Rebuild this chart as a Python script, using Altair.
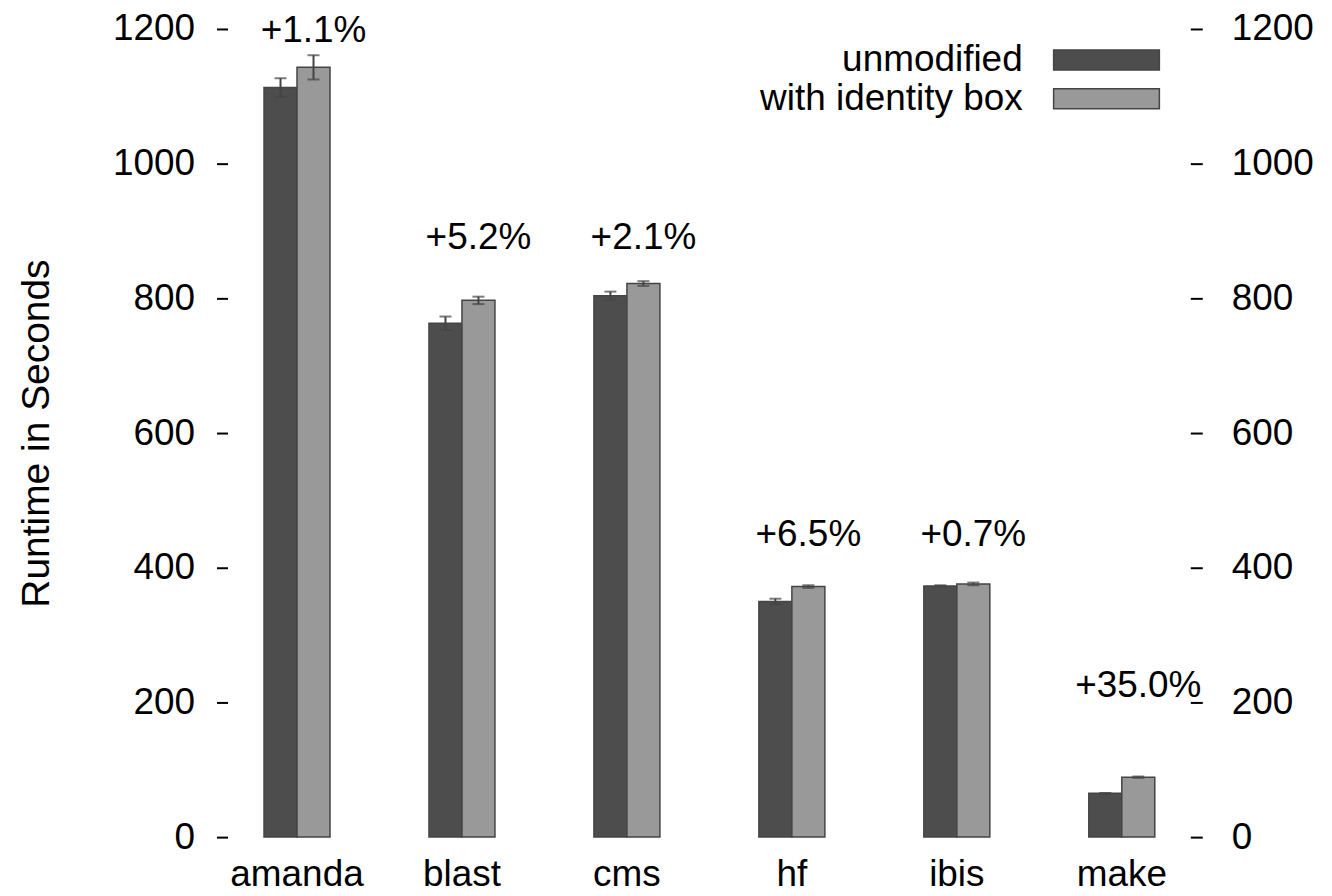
import altair as alt
import pandas as pd

categories = ["amanda", "blast", "cms", "hf", "ibis", "make"]
series = ["unmodified", "with identity box"]
unmodified = [1113, 763, 804, 350, 373, 65]
unmodified_err = [14, 10, 6, 4, 1, 0.5]
identity = [1143, 797, 822, 372, 376, 89]
identity_err = [18, 5.5, 3.5, 2, 2, 1]
pct_labels = ["+1.1%", "+5.2%", "+2.1%", "+6.5%", "+0.7%", "+35.0%"]
label_y = [1197, 890, 890, 449, 449, 225]
colors = ["#4d4d4d", "#999999"]

rows = []
for i, c in enumerate(categories):
    rows.append({"bench": c, "series": series[0], "value": unmodified[i],
                 "lo": unmodified[i] - unmodified_err[i], "hi": unmodified[i] + unmodified_err[i]})
    rows.append({"bench": c, "series": series[1], "value": identity[i],
                 "lo": identity[i] - identity_err[i], "hi": identity[i] + identity_err[i]})
df = pd.DataFrame(rows)
lab = pd.DataFrame({"bench": categories, "series": series[1], "label": pct_labels, "ly": label_y})

FONT = "Liberation Sans"
ysc = alt.Scale(domain=[0, 1200], nice=False, zero=True)
xsc = alt.Scale(paddingInner=0.6, paddingOuter=0.3)
xosc = alt.Scale(domain=series, paddingInner=0, paddingOuter=0)

X = alt.X("bench:N", sort=categories, scale=xsc,
          axis=alt.Axis(title=None, labelAngle=0, ticks=False, domain=False, grid=False,
                        labelFontSize=37, labelPadding=19, labelColor="black", labelFont=FONT))
XO = alt.XOffset("series:N", sort=series, scale=xosc)

left_axis = alt.Axis(title="Runtime in Seconds", orient="left", values=[0, 200, 400, 600, 800, 1000, 1200],
                     format="d", domain=False, grid=False, tickSize=11, tickWidth=2, tickColor="black",
                     offset=-13, labelFontSize=37, labelPadding=22, labelColor="black", labelFont=FONT,
                     titleFontSize=39, titleFontWeight="normal", titleColor="black", titleFont=FONT,
                     titlePadding=56)
right_axis = alt.Axis(title=None, orient="right", values=[0, 200, 400, 600, 800, 1000, 1200],
                      format="d", domain=False, grid=False, tickSize=12, tickWidth=2, tickColor="black",
                      offset=-14, labelFontSize=37, labelPadding=29, labelColor="black", labelFont=FONT)

bars = alt.Chart(df).mark_bar(stroke="#444444", strokeWidth=1.5).encode(
    x=X, xOffset=XO,
    y=alt.Y("value:Q", scale=ysc, axis=left_axis),
    color=alt.Color("series:N", sort=series, scale=alt.Scale(domain=series, range=colors),
                    legend=alt.Legend(title=None, orient="none", legendX=875, legendY=12,
                                      padding=0,
                                      symbolType="M-2.944,-0.556L2.944,-0.556L2.944,0.556L-2.944,0.556Z",
                                      symbolSize=1296,
                                      symbolStrokeColor="#444444", symbolStrokeWidth=1.5, symbolOpacity=1,
                                      labelAlign="right", labelOffset={"expr": "-103"}, labelFontSize=37,
                                      labelLimit=600, labelColor="black", labelFont=FONT,
                                      rowPadding=2)),
)

rules = alt.Chart(df).mark_rule(color="#444444", strokeWidth=2).encode(
    x=X, xOffset=XO, y=alt.Y("lo:Q", scale=ysc, axis=None), y2="hi:Q")
cap_hi = alt.Chart(df).mark_tick(color="#444444", size=12, thickness=2).encode(
    x=X, xOffset=XO, y=alt.Y("hi:Q", scale=ysc, axis=None))
cap_lo = alt.Chart(df).mark_tick(color="#444444", size=12, thickness=2).encode(
    x=X, xOffset=XO, y=alt.Y("lo:Q", scale=ysc, axis=None))

texts = alt.Chart(lab).mark_text(fontSize=37, font=FONT, color="black", baseline="middle").encode(
    x=X, xOffset=XO, y=alt.Y("ly:Q", scale=ysc, axis=right_axis), text="label:N")

chart = alt.layer(bars, rules, cap_hi, cap_lo, texts).resolve_axis(y="independent").properties(
    width=992, height=810,
    autosize=alt.AutoSizeParams(type="none"),
    padding={"left": 207, "top": 20, "right": 120, "bottom": 58},
).configure(font=FONT, view=alt.ViewConfig(stroke=None))

chart.save("out.html", embed_options={"renderer": "svg", "actions": False})
